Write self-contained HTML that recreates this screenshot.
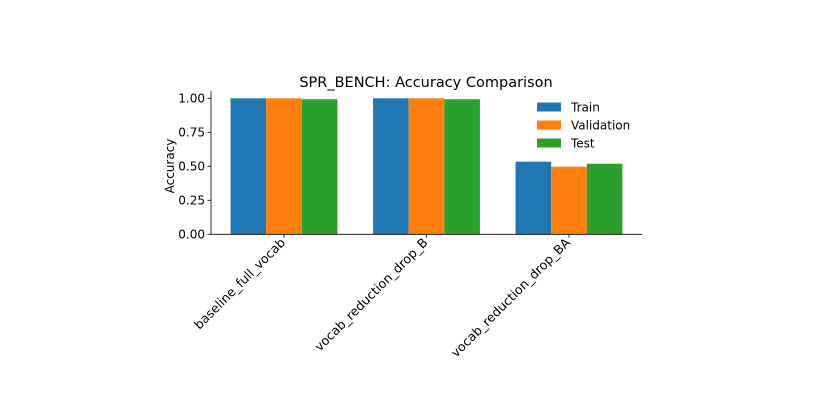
<!DOCTYPE html>
<html><head><meta charset="utf-8"><style>
body{margin:0;background:#fff;}
svg{display:block;font-family:"DejaVu Sans","Liberation Sans",sans-serif;}
</style></head><body>
<svg id="chart" width="813" height="402" viewBox="0 0 813 402" xmlns="http://www.w3.org/2000/svg">
<text x="426" y="87" font-size="14.5" text-anchor="middle" fill="#000">SPR_BENCH: Accuracy Comparison</text>
<text transform="translate(174,166) rotate(-90)" font-size="12" text-anchor="middle" fill="#000">Accuracy</text>
<g id="bars"></g>
<g id="axes"></g>
<g id="legend"></g>
</svg>
<script>
const categories=["baseline_full_vocab","vocab_reduction_drop_B","vocab_reduction_drop_BA"];
const seriesNames=["Train","Validation","Test"];
const trainVals=[1.0,1.0,0.534];
const valVals=[1.0,1.0,0.497];
const testVals=[0.993,0.993,0.519];
const yTicks=[0,0.25,0.5,0.75,1.0];
const yTickLabels=["0.00","0.25","0.50","0.75","1.00"];

const NS="http://www.w3.org/2000/svg";
const colors=["#1f77b4","#ff7f0e","#2ca02c"];
const series=[trainVals,valVals,testVals];
const X0=211,X1=642,Y0=234.3,PXU=136;
const xmin=-0.5125,xmax=2.5125;
function xs(v){return X0+(v-xmin)/(xmax-xmin)*(X1-X0);}
function ys(v){return Y0-v*PXU;}
function mk(tag,attrs,parent){const e=document.createElementNS(NS,tag);for(const k in attrs)e.setAttribute(k,attrs[k]);parent.appendChild(e);return e;}
const gb=document.getElementById('bars'),ga=document.getElementById('axes'),gl=document.getElementById('legend');
const bw=0.25;
series.forEach((vals,s)=>{vals.forEach((v,i)=>{
  const c=i+(s-1)*bw;
  const r=mk('rect',{x:xs(c-bw/2),y:ys(v),width:xs(c+bw/2)-xs(c-bw/2),height:Y0-ys(v),fill:colors[s]},gb);
  
  
});});
const ls=mk('line',{x1:X0,y1:91,x2:X0,y2:Y0,stroke:'#000','stroke-width':0.8},ga);


const bs=mk('line',{x1:X0,y1:Y0,x2:X1,y2:Y0,stroke:'#000','stroke-width':0.8},ga);


yTicks.forEach((t,i)=>{
  mk('line',{x1:X0-3.5,y1:ys(t),x2:X0,y2:ys(t),stroke:'#000','stroke-width':0.8},ga);
  const tx=mk('text',{x:X0-6,y:ys(t)+4,'font-size':12,'text-anchor':'end',fill:'#000'},ga);
  tx.textContent=yTickLabels[i];
  
  
});
categories.forEach((c,i)=>{
  const x=xs(i);
  mk('line',{x1:x,y1:Y0,x2:x,y2:Y0+3.5,stroke:'#000','stroke-width':0.8},ga);
  const tx=mk('text',{transform:`translate(${x+2},${Y0+9}) rotate(-45)`,'font-size':12.6,'text-anchor':'end',fill:'#000'},ga);
  tx.textContent=c;
  
  
});
seriesNames.forEach((n,s)=>{
  const y=107+s*18;
  const p=mk('rect',{x:537,y:y-4.5,width:24,height:9,fill:colors[s]},gl);
  
  
  const t=mk('text',{x:571,y:y+4.5,'font-size':12,fill:'#000'},gl);
  t.textContent=n;
  
  
});
</script>
</body></html>
